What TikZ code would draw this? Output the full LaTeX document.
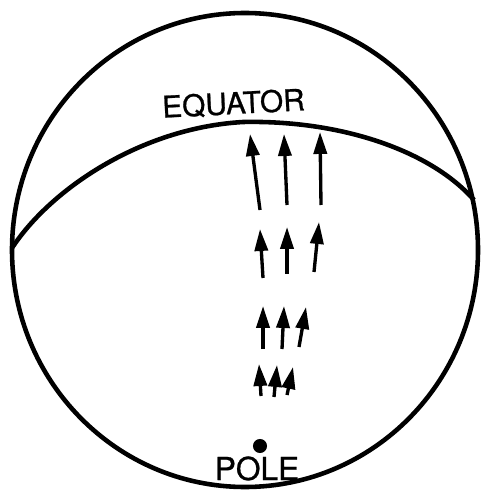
\documentclass[tikz,border=0pt]{standalone}
\usepackage{fontspec}
\setmainfont{TeX Gyre Heros}
\usetikzlibrary{arrows.meta}

\begin{document}
\begin{tikzpicture}[
    x=0.02cm,y=-0.02cm,
    rim/.style    = {black, line width=2.6pt},
    fleche/.style = {-{Triangle[length=12.5pt,width=7.5pt]}, line width=1.9pt},
    lbl/.style    = {font=\fontsize{17}{19}\selectfont, inner sep=0pt, anchor=base},
    dot/.style    = {circle, fill=black, inner sep=0pt, minimum size=8pt},
  ]
  \useasboundingbox (0,0) rectangle (480,492);

  % Contour de la sphere
  \draw[rim] (245,250) ellipse [x radius=233, y radius=237];

  % Equateur
  \coordinate (eqg) at (12,248);
  \coordinate (eqd) at (474,200);
  \draw[rim] (eqg) .. controls (50,190) and (140,128) .. (243,122)
                   .. controls (340,120) and (430,150) .. (eqd);
  \node[lbl,rotate=3] (equateur) at (234,114)
       {\addfontfeature{FakeBold=0.8}EQUATOR};

  % Pole
  \node[dot] (pole) at (260,446) {};
  \node[lbl,font=\fontsize{18}{20}\selectfont] (nompole) at (257,480)
       {\addfontfeature{FakeBold=0.8}POLE};

  % Vecteurs, du pole vers l'equateur
  \foreach \xa/\ya/\xb/\yb in {260/210/250/134, 287/205/284/134, 321/205/320/132,
                              263/278/260/229, 287/274/287/227, 314/272/319/222,
                              263/349/263/306, 282/349/284/306, 299/347/306/307,
                              261/396/259/364, 274/397/277/365, 287/395/293/367}
    \draw[fleche] (\xa,\ya) -- (\xb,\yb);

\end{tikzpicture}
\end{document}
